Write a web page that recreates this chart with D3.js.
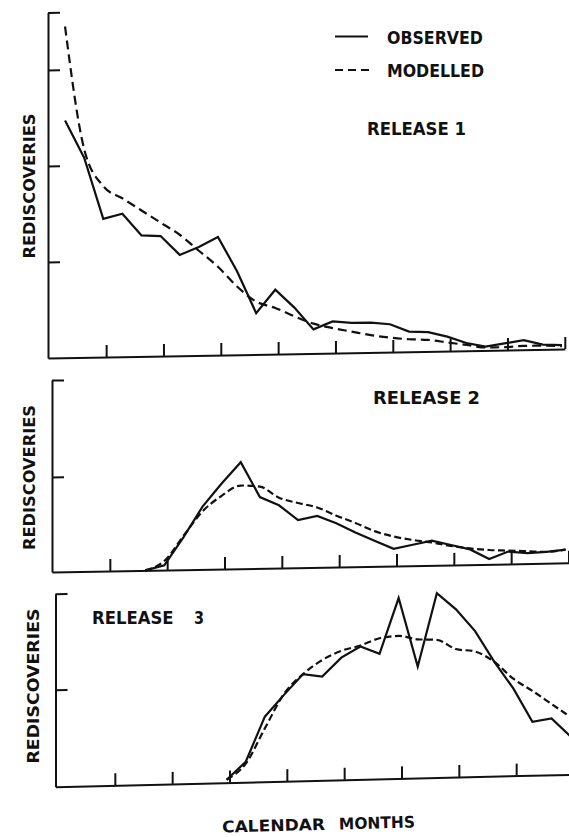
<!DOCTYPE html>
<html>
<head>
<meta charset="utf-8">
<script src="https://cdn.jsdelivr.net/npm/d3@7"></script>
<style>
  body { margin: 0; background: #fff; }
  text { font-family: "DejaVu Sans", sans-serif; font-weight: bold; fill: #111; }
</style>
</head>
<body>
<div id="chart"></div>
<script>
// months after first release (plotted near the end of each month)
const months = [0.85, 1.85, 2.85, 3.85, 4.85, 5.85, 6.85, 7.85, 8.85, 9.85, 10.85, 11.85, 12.85, 13.85,
                14.85, 15.85, 16.85, 17.85, 18.85, 19.85, 20.85, 21.85, 22.85, 23.85, 24.85, 25.85, 26.85];
const monthTicks = [3, 6, 9, 12, 15, 18, 21, 24, 27];

// rediscoveries (in axis tick units)
const observed1 = [2.47, 2.08, 1.44, 1.49, 1.26, 1.25, 1.05, 1.13, 1.23, 0.87, 0.43, 0.67, 0.48, 0.25,
                   0.33, 0.31, 0.31, 0.29, 0.21, 0.20, 0.15, 0.08, 0.04, 0.07, 0.10, 0.05, 0.04];
const modelled1 = [3.45, 2.17, 1.78, 1.65, 1.52, 1.39, 1.26, 1.09, 0.92, 0.71, 0.55, 0.48, 0.39, 0.31,
                   0.26, 0.22, 0.18, 0.15, 0.13, 0.12, 0.09, 0.06, 0.03, 0.03, 0.04, 0.04, 0.03];
const observed2 = [null, null, null, null, 0.00, 0.05, 0.34, 0.66, 0.90, 1.12, 0.75, 0.66, 0.50, 0.54,
                   0.46, 0.36, 0.27, 0.18, 0.22, 0.26, 0.21, 0.16, 0.055, 0.13, 0.11, 0.12, 0.14];
const modelled2 = [null, null, null, null, 0.00, 0.095, 0.355, 0.61, 0.77, 0.875, 0.86, 0.74, 0.68, 0.63,
                   0.54, 0.46, 0.37, 0.31, 0.27, 0.24, 0.20, 0.17, 0.15, 0.14, 0.13, 0.12, 0.14];
const observed3 = [null, null, null, null, null, null, null, null, 0.03, 0.21, 0.67, 0.89, 1.10, 1.07,
                   1.26, 1.37, 1.29, 1.86, 1.15, 1.90, 1.73, 1.50, 1.18, 0.90, 0.55, 0.58, 0.39];
const modelled3 = [null, null, null, null, null, null, null, null, 0.03, 0.19, 0.55, 0.90, 1.10, 1.24,
                   1.33, 1.38, 1.45, 1.47, 1.43, 1.42, 1.32, 1.29, 1.18, 1.00, 0.87, 0.73, 0.59];

const yTicks1 = [1, 2, 3];
const yTicks2 = [1];
const yTicks3 = [1];

const width = 569, height = 837;
const svg = d3.select("#chart").append("svg")
    .attr("width", width)
    .attr("height", height);

// the scanned page is a bit skewed, so each panel gets its own frame
const panels = [
    {obs: observed1, mod: modelled1, ticks: yTicks1, top: 3.6,  axisX: 48,   x0: 48.8, base: 358,   unit: 96, tilt: 0.0174, dash: "9,5"},
    {obs: observed2, mod: modelled2, ticks: yTicks2, top: 2.02, axisX: 52,   x0: 52.5, base: 572,   unit: 95, tilt: 0.0177, dash: "7,3.5"},
    {obs: observed3, mod: modelled3, ticks: yTicks3, top: 1.99, axisX: 55.5, x0: 57.5, base: 786.7, unit: 97, tilt: 0.024, dash: "7,3.5"}
];

panels.forEach(p => {
    const x = d3.scaleLinear().domain([0, 27]).range([p.x0, p.x0 + 516]);
    const y = d3.scaleLinear().domain([0, p.top]).range([p.base, p.base - p.top * p.unit]);
    const skew = -Math.atan(p.tilt) * 180 / Math.PI;

    const g = svg.append("g")
        .attr("transform", `translate(${p.axisX},${p.base}) skewY(${skew}) translate(${-p.axisX},${-p.base})`);

    // x axis: ticks point up, no labels
    const xAxisScale = x.copy().domain([x.invert(p.axisX), 27]).range([p.axisX, x(27)]);
    g.append("g")
        .attr("transform", `translate(0,${p.base})`)
        .call(d3.axisBottom(xAxisScale).tickValues(monthTicks).tickSizeInner(-12).tickSizeOuter(0).tickFormat(""))
        .call(a => a.selectAll("path, line").attr("stroke", "#111").attr("stroke-width", 2));

    // y axis: ticks point right
    g.append("g")
        .attr("transform", `translate(${p.axisX},0)`)
        .call(d3.axisLeft(y).tickValues(p.ticks.concat([p.top])).tickSizeInner(-12).tickSizeOuter(0).tickFormat(""))
        .call(a => a.selectAll("path, line").attr("stroke", "#111").attr("stroke-width", 2));

    const obsLine = d3.line()
        .defined((d, i) => d != null)
        .x((d, i) => x(months[i]))
        .y(d => y(d));
    const modLine = d3.line()
        .defined((d, i) => d != null)
        .x((d, i) => x(months[i]))
        .y(d => y(d))
        .curve(d3.curveMonotoneX);

    g.append("path")
        .attr("d", modLine(p.mod))
        .attr("fill", "none")
        .attr("stroke", "#111")
        .attr("stroke-width", 2.2)
        .attr("stroke-dasharray", p.dash);

    g.append("path")
        .attr("d", obsLine(p.obs))
        .attr("fill", "none")
        .attr("stroke", "#111")
        .attr("stroke-width", 2.2)
        .attr("stroke-linejoin", "miter");
});

// legend
svg.append("line").attr("x1", 335).attr("x2", 368).attr("y1", 36.5).attr("y2", 36.5)
    .attr("stroke", "#111").attr("stroke-width", 2.2);
svg.append("line").attr("x1", 335).attr("x2", 371).attr("y1", 70).attr("y2", 70)
    .attr("stroke", "#111").attr("stroke-width", 2.2).attr("stroke-dasharray", "8,5");

const label = (parent, txt, xPos, yPos, len, size) => parent.append("text")
    .attr("x", xPos).attr("y", yPos)
    .attr("font-size", size || 17)
    .attr("textLength", len)
    .attr("lengthAdjust", "spacingAndGlyphs")
    .text(txt);

label(svg, "OBSERVED", 387, 43.5, 96);
label(svg, "MODELLED", 387, 77, 97);
label(svg, "RELEASE 1", 367, 135, 99);
label(svg, "RELEASE 2", 373, 404, 107);
label(svg, "RELEASE", 92, 623.5, 81.5);
label(svg, "3", 194, 623.5, 10);

// y titles
[[28, 186, 145], [28, 477.5, 145], [32, 686, 155]].forEach(t => {
    svg.append("text")
        .attr("transform", `translate(${t[0] + 6.5},${t[1]}) rotate(-90)`)
        .attr("text-anchor", "middle")
        .attr("font-size", 16.5)
        .attr("textLength", t[2])
        .attr("lengthAdjust", "spacingAndGlyphs")
        .text("REDISCOVERIES");
});

// x title, slightly tilted like the scan
const xTitle = svg.append("g").attr("transform", "rotate(-1.5, 318, 825)");
label(xTitle, "CALENDAR", 222, 830, 103, 16);
label(xTitle, "MONTHS", 339, 830, 76, 16);
</script>
</body>
</html>
